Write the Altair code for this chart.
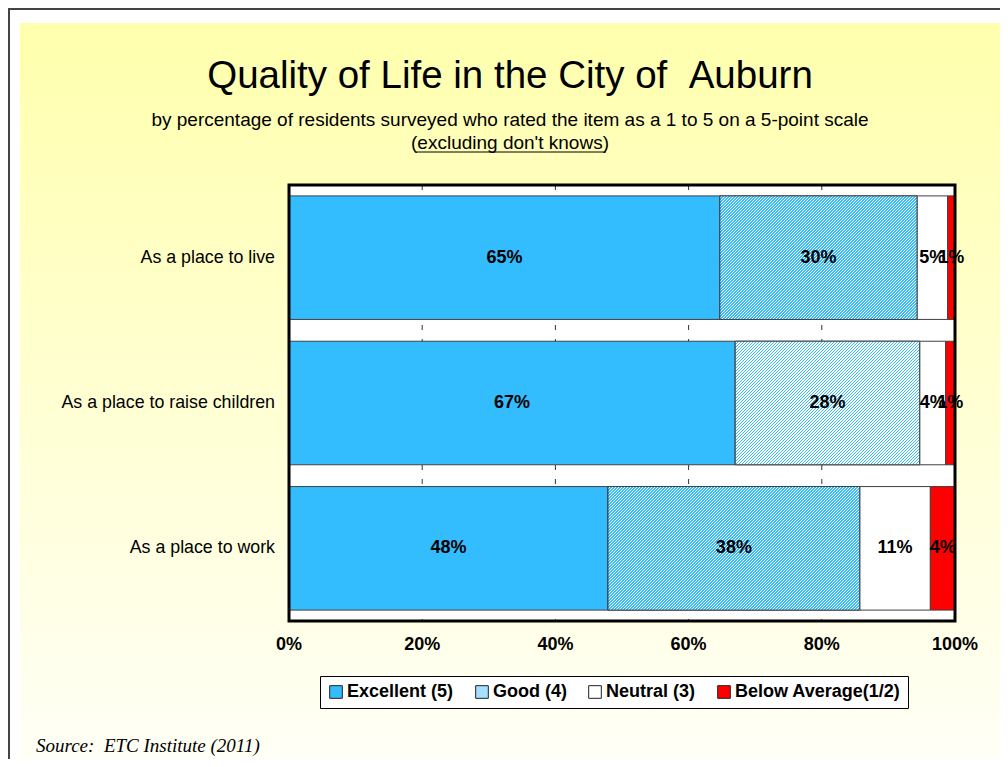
import math
import altair as alt
import pandas as pd

# ---------------- data ----------------
categories = ["As a place to live", "As a place to raise children", "As a place to work"]
ratings = ["Excellent (5)", "Good (4)", "Neutral (3)", "Below Average(1/2)"]
excellent = [64.7, 67.0, 47.9]
good = [29.6, 27.7, 37.8]
neutral = [4.6, 3.9, 10.6]
below = [1.1, 1.4, 3.7]
tick_values = [0, 20, 40, 60, 80, 100]
tick_labels = ["0%", "20%", "40%", "60%", "80%", "100%"]
grid_values = [20, 40, 60, 80]

title_text = "Quality of Life in the City of \u00a0Auburn"
subtitle1 = "by percentage of residents surveyed who rated the item as a 1 to 5 on a 5-point scale"
subtitle2 = "(excluding don't knows)"
source_text = "Source: \u00a0ETC Institute (2011)"

# ---------------- styles ----------------
SANS = "Liberation Sans, Arial, sans-serif"
SERIF = "Liberation Serif, Times New Roman, serif"
BLUE = "#33BDFE"
RED = "#FF0000"
colors = [BLUE, "#A3E1FF", "#FFFFFF", RED]

W_TOTAL, H_TOTAL = 992, 751
PX0, PX1 = 281, 947      # plot area horizontal extent
PY0, PY1 = 177, 613      # plot area vertical extent
P_IN, P_OUT = 0.15, 0.075

rows = []
series = [excellent, good, neutral, below]
for ci, cat in enumerate(categories):
    for ri, r in enumerate(ratings):
        rows.append({"category": cat, "rating": r, "order": ri, "value": series[ri][ci]})
df = pd.DataFrame(rows)

xscale = alt.Scale(domain=[0, 100], range=[PX0, PX1], nice=False, zero=False)
yscale = alt.Scale(domain=categories, range=[PY0, PY1], paddingInner=P_IN, paddingOuter=P_OUT)

step = (PY1 - PY0) / (len(categories) - P_IN + 2 * P_OUT)
bar_h = step * (1 - P_IN)
px_per_unit = (PX1 - PX0) / 100.0


def hatch(W, H, P=3.0, frac=0.5, c1=BLUE, c2="#FFFFFF"):
    L = W + H
    k = L / (W * W + H * H)
    stops = []
    n = int(math.ceil(L / P))
    for i in range(n):
        a = i * P / L
        if a >= 1:
            break
        b = min((i * P + frac * P) / L, 1.0)
        c = min((i + 1) * P / L, 1.0)
        stops += [
            {"offset": round(a, 5), "color": c1},
            {"offset": round(b, 5), "color": c1},
            {"offset": round(b, 5), "color": c2},
            {"offset": round(c, 5), "color": c2},
        ]
    return {"gradient": "linear", "x1": 0, "y1": 0, "x2": W * k, "y2": H * k, "stops": stops}


base = alt.Chart(df).transform_stack(
    stack="value", groupby=["category"], sort=[alt.SortField("order")], as_=["x0", "x1"]
)

# page background (yellow gradient panel)
bg_df = pd.DataFrame({"k": [0]})
background = alt.Chart(bg_df).mark_rect(
    fill={"gradient": "linear", "x1": 0, "y1": 0, "x2": 0, "y2": 1,
          "stops": [{"offset": 0, "color": "#FFFFAD"}, {"offset": 1, "color": "#FFFFF6"}]}
).encode(x=alt.value(12), x2=alt.value(W_TOTAL), y=alt.value(15), y2=alt.value(H_TOTAL))

frame_top = alt.Chart(bg_df).mark_rule(color="#444444", strokeWidth=2).encode(
    x=alt.value(0), x2=alt.value(W_TOTAL), y=alt.value(1))
frame_left = alt.Chart(bg_df).mark_rule(color="#444444", strokeWidth=2).encode(
    x=alt.value(1), y=alt.value(0), y2=alt.value(H_TOTAL))

plot_bg = alt.Chart(bg_df).mark_rect(fill="white").encode(
    x=alt.value(PX0), x2=alt.value(PX1), y=alt.value(PY0), y2=alt.value(PY1))

grid = alt.Chart(pd.DataFrame({"g": grid_values})).mark_rule(
    color="#333333", strokeWidth=1, strokeDash=[5, 9]
).encode(x=alt.X("g:Q", scale=xscale, axis=None), y=alt.value(PY0), y2=alt.value(PY1))

bars = base.mark_bar(stroke="#404040", strokeWidth=1, opacity=1).encode(
    x=alt.X("x0:Q", scale=xscale, axis=None),
    x2="x1:Q",
    y=alt.Y("category:N", scale=yscale, axis=None),
    color=alt.Color(
        "rating:N",
        scale=alt.Scale(domain=ratings, range=colors),
        legend=alt.Legend(
            title=None, orient="none", legendX=312, legendY=668, direction="horizontal",
            columns=4, labelFont=SANS, labelFontSize=18, labelFontWeight="bold",
            labelColor="black", symbolType="square", symbolSize=160,
            symbolStrokeColor="#222222", symbolStrokeWidth=1, symbolOpacity=1,
            columnPadding=19, labelOffset=2, padding=7, labelLimit=300,
            strokeColor="black", fillColor="white",
        ),
    ),
)

good_layers = []
for ci, cat in enumerate(categories):
    Wpx = good[ci] * px_per_unit
    good_layers.append(
        base.transform_filter(
            (alt.datum.category == cat) & (alt.datum.rating == ratings[1])
        ).mark_bar(fill=hatch(Wpx, bar_h), stroke="#404040", strokeWidth=1).encode(
            x=alt.X("x0:Q", scale=xscale, axis=None),
            x2="x1:Q",
            y=alt.Y("category:N", scale=yscale, axis=None),
        )
    )

plot_frame = alt.Chart(bg_df).mark_rect(fill=None, stroke="black", strokeWidth=3).encode(
    x=alt.value(PX0), x2=alt.value(PX1), y=alt.value(PY0), y2=alt.value(PY1))

labels = base.transform_calculate(
    mid="(datum.x0 + datum.x1) / 2",
    label="format(datum.value, '.0f') + '%'",
).mark_text(font=SANS, fontSize=18, fontWeight="bold", color="black").encode(
    x=alt.X("mid:Q", scale=xscale, axis=None),
    y=alt.Y("category:N", scale=yscale, axis=None),
    text="label:N",
)

ylabels = alt.Chart(pd.DataFrame({"category": categories})).mark_text(
    font=SANS, fontSize=17.8, align="right", baseline="middle", color="black"
).encode(
    y=alt.Y("category:N", scale=yscale, axis=None),
    x=alt.value(PX0 - 14),
    text="category:N",
)

xlabels = alt.Chart(pd.DataFrame({"t": tick_values, "lab": tick_labels})).mark_text(
    font=SANS, fontSize=18, fontWeight="bold", baseline="middle", color="black"
).encode(
    x=alt.X("t:Q", scale=xscale, axis=None),
    y=alt.value(637),
    text="lab:N",
)

title = alt.Chart(pd.DataFrame({"s": [title_text]})).mark_text(
    font=SANS, fontSize=38.5, baseline="alphabetic", color="black"
).encode(x=alt.value(502), y=alt.value(80), text="s:N")

sub1 = alt.Chart(pd.DataFrame({"s": [subtitle1]})).mark_text(
    font=SANS, fontSize=19, baseline="alphabetic", color="black"
).encode(x=alt.value(502), y=alt.value(118), text="s:N")

sub2 = alt.Chart(pd.DataFrame({"s": [subtitle2]})).mark_text(
    font=SANS, fontSize=19, baseline="alphabetic", color="black"
).encode(x=alt.value(502), y=alt.value(141), text="s:N")

underline = alt.Chart(bg_df).mark_rule(color="black", strokeWidth=1).encode(
    x=alt.value(408), x2=alt.value(598), y=alt.value(144))

source = alt.Chart(pd.DataFrame({"s": [source_text]})).mark_text(
    font=SERIF, fontSize=19, fontStyle="italic", align="left", baseline="alphabetic", color="black"
).encode(x=alt.value(28), y=alt.value(744), text="s:N")

chart = alt.layer(
    background, frame_top, frame_left, plot_bg, grid, bars, *good_layers, plot_frame,
    labels, ylabels, xlabels, title, sub1, sub2, underline, source,
).properties(
    width=W_TOTAL, height=H_TOTAL, padding=0,
    autosize=alt.AutoSizeParams(type="none"), background="white",
).configure_view(stroke=None)

chart.save("out.html", embed_options={"renderer": "svg", "actions": False})
